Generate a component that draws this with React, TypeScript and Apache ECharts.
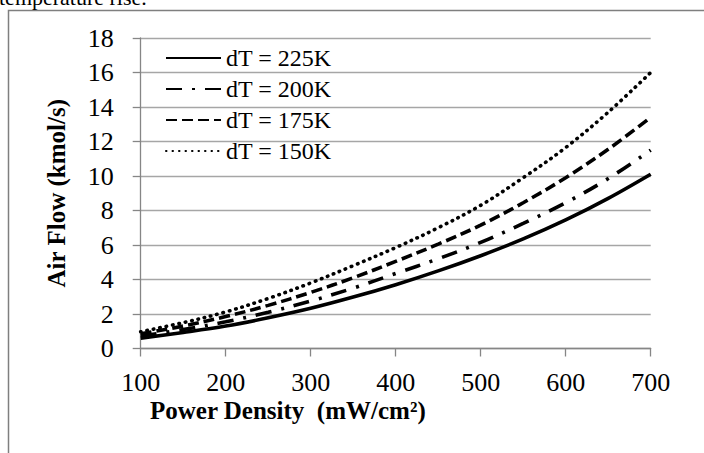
import React, { useEffect, useRef } from "react";
import * as echarts from "echarts";

const powerDensity = [100, 150, 200, 250, 300, 350, 400, 450, 500, 550, 600, 650, 700];
const seriesNames = ["dT = 225K", "dT = 200K", "dT = 175K", "dT = 150K"];
const flow225 = [0.6, 0.93, 1.3, 1.78, 2.33, 2.98, 3.7, 4.5, 5.38, 6.35, 7.45, 8.7, 10.1];
const flow200 = [0.72, 1.1, 1.55, 2.1, 2.75, 3.5, 4.35, 5.2, 6.15, 7.25, 8.45, 9.85, 11.5];
const flow175 = [0.85, 1.3, 1.85, 2.5, 3.25, 4.1, 5.05, 6.05, 7.15, 8.45, 9.9, 11.55, 13.4];
const flow150 = [0.97, 1.5, 2.12, 2.9, 3.8, 4.8, 5.85, 7.0, 8.3, 9.9, 11.65, 13.7, 16.0];
const xTicks = [100, 200, 300, 400, 500, 600, 700];
const yTicks = [0, 2, 4, 6, 8, 10, 12, 14, 16, 18];

const FONT = "Liberation Serif, serif";

export default function App() {
  const ref = useRef<HTMLDivElement>(null);
  useEffect(() => {
    if (!ref.current) return;
    const chart = echarts.init(ref.current, undefined, { renderer: "svg" });
    const pair = (ys: number[]) => powerDensity.map((x, i) => [x, ys[i]]);
    const styles: any[] = [
      { type: "solid", width: 3.6, cap: "butt" },
      { type: [16, 10, 3, 10], width: 3.6, cap: "butt" },
      { type: [11, 5], width: 3.6, cap: "butt" },
      { type: [0.5, 6], width: 3.6, cap: "round" },
    ];
    const datas = [flow225, flow200, flow175, flow150];
    const lbl = { fontFamily: FONT, fontSize: 26, color: "#000", fontWeight: "normal" };
    chart.setOption({
      animation: false,
      backgroundColor: "#ffffff",
      textStyle: { fontFamily: FONT },
      grid: { left: 140.7, right: 53.3, top: 38, bottom: 104.5, containLabel: false },
      legend: {
        orient: "vertical",
        left: 160,
        top: 41,
        itemWidth: 55,
        itemHeight: 14,
        itemGap: 7,
        itemStyle: { opacity: 0 },
        textStyle: { fontFamily: FONT, fontSize: 24, color: "#000", lineHeight: 24, fontWeight: "normal" },
        data: seriesNames,
      },
      xAxis: {
        type: "value",
        min: xTicks[0],
        max: xTicks[xTicks.length - 1],
        interval: 100,
        axisLine: { show: true, lineStyle: { color: "#868686", width: 1.3 } },
        axisTick: { show: true, length: 8, lineStyle: { color: "#868686", width: 1.3 } },
        axisLabel: { ...lbl, margin: 21 },
        splitLine: { show: false },
      },
      yAxis: {
        type: "value",
        min: yTicks[0],
        max: yTicks[yTicks.length - 1],
        interval: 2,
        name: "Air Flow (kmol/s)",
        nameLocation: "middle",
        nameGap: 72,
        nameTextStyle: { fontFamily: FONT, fontSize: 25, fontWeight: "bold", color: "#000" },
        axisLine: { show: true, lineStyle: { color: "#868686", width: 1.3 } },
        axisTick: { show: true, length: 8, lineStyle: { color: "#868686", width: 1.3 } },
        axisLabel: { ...lbl, margin: 27 },
        splitLine: { show: true, lineStyle: { color: "#a6a6a6", width: 1.3 } },
      },
      graphic: [
        {
          type: "rect",
          shape: { x: 8.5, y: 10.5, width: 800, height: 500 },
          style: { fill: "none", stroke: "#7f7f7f", lineWidth: 1.5 },
          silent: true,
        },
        {
          type: "text",
          x: -1,
          y: 8,
          style: {
            text: "temperature rise.",
            fontFamily: FONT,
            fontSize: 22,
            fill: "#000",
            textVerticalAlign: "bottom",
          },
        },
        {
          type: "text",
          x: 150,
          y: 398,
          style: {
            text: "Power Density  (mW/cm²)",
            fontFamily: FONT,
            fontSize: 25,
            fontWeight: "bold",
            fill: "#000",
            textVerticalAlign: "top",
          },
        },
      ],
      series: datas.map((d, i) => ({
        name: seriesNames[i],
        type: "line",
        data: pair(d),
        smooth: 0.35,
        symbol: "none",
        showSymbol: false,
        lineStyle: { color: "#000", ...styles[i] },
        itemStyle: { color: "#000" },
      })),
    });
    return () => chart.dispose();
  }, []);
  return (
    <div
      ref={ref}
      style={{ position: "fixed", left: 0, top: 0, width: 704, height: 453 }}
    />
  );
}
